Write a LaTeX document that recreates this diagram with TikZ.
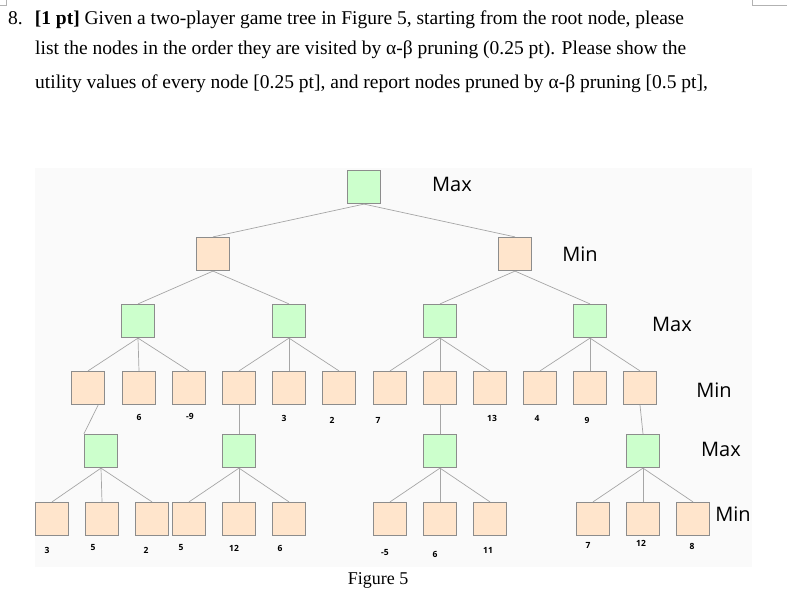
\documentclass[tikz,border=0pt]{standalone}
\usepackage{fontspec}
\setmainfont{Liberation Serif}
\newfontfamily\labfont{Open Sans}
\begin{document}
\begin{tikzpicture}[x=1pt,y=-1pt,
  mx/.style={draw=black!45,line width=1.2pt,fill=green!20,minimum size=33pt,inner sep=0pt},
  mn/.style={draw=black!45,line width=1.2pt,fill=orange!20,minimum size=33pt,inner sep=0pt},
  ed/.style={draw=black!35,line width=0.7pt},
  val/.style={font=\labfont\bfseries\fontsize{8.5}{9}\selectfont},
  lvl/.style={font=\labfont\fontsize{20}{22}\selectfont},
  qt/.style={anchor=west,font=\fontsize{19.5}{21}\selectfont,inner sep=0pt}]
\useasboundingbox (0,0) rectangle (787,604);
\fill[black!2] (35,168) rectangle (752,567);
\draw[black!30] (0,5) -- (6,5) -- (6,0);
\draw[black!30] (752,0) -- (752,5) -- (787,5);
\node[qt] (q1) at (8,20) {8.\hspace{12pt}\textbf{[1 pt]} Given a two-player game tree in Figure 5, starting from the root node, please};
\node[qt] (q2) at (35,50) {list the nodes in the order they are visited by α-β pruning (0.25 pt). Please show the};
\node[qt] (q3) at (35,84) {utility values of every node [0.25 pt], and report nodes pruned by α-β pruning [0.5 pt],};
% nodes
\node[mx] (r) at (364,187) {};
\node[mn] (a) at (213,254) {};
\node[mn] (b) at (515,254) {};
\node[mx] (a1) at (138,321) {};
\node[mx] (a2) at (289,321) {};
\node[mx] (b1) at (440,321) {};
\node[mx] (b2) at (590,321) {};
\foreach \n/\x in {1/88,2/139,3/189,4/239,5/289,6/339,7/390,8/440,9/490,10/540,11/590,12/640}
  \node[mn] (c\n) at (\x,388) {};
\node[mx] (d1) at (101,451) {};
\node[mx] (d4) at (239,451) {};
\node[mx] (d8) at (440,451) {};
\node[mx] (d12) at (643,451) {};
\foreach \n/\x in {1/52,2/102,3/152,4/189,5/239,6/289,7/390,8/440,9/490,10/593,11/643,12/693}
  \node[mn] (e\n) at (\x,519) {};
% edges
\foreach \p/\c in {r/a,r/b,a/a1,a/a2,b/b1,b/b2,a1/c1,a1/c2,a1/c3,a2/c4,a2/c5,a2/c6,b1/c7,b1/c8,b1/c9,b2/c10,b2/c11,b2/c12,c4/d4,c8/d8,c12/d12,d1/e1,d1/e2,d1/e3,d4/e4,d4/e5,d4/e6,d8/e7,d8/e8,d8/e9,d12/e10,d12/e11,d12/e12}
  \draw[ed] (\p.south) -- (\c.north);
\draw[ed] (c1.south east) ++(-7,0) -- (d1.north west) ++(0,0);
% values
\foreach \v/\x/\y in {6/139/417,-9/190/416,3/284/418,2/332/420,7/378/420,13/492/418,4/537/418,9/587/420,3/47/550,5/93/548,2/146/550,5/181/548,12/234/548,6/280/548,-5/385/553,6/435/554,11/488/550,7/588/545,12/641/543,8/692/546}
  \node[val] at (\x,\y) {\v};
\node[lvl] (l1) at (452,184) {Max};
\node[lvl] (l2) at (580,254) {Min};
\node[lvl] (l3) at (672,324) {Max};
\node[lvl] (l4) at (714,390) {Min};
\node[lvl] (l5) at (721,449) {Max};
\node[lvl] (l6) at (733,514) {Min};
\node[font=\fontsize{18}{20}\selectfont] (fig) at (378,580) {Figure 5};
\end{tikzpicture}
\end{document}
